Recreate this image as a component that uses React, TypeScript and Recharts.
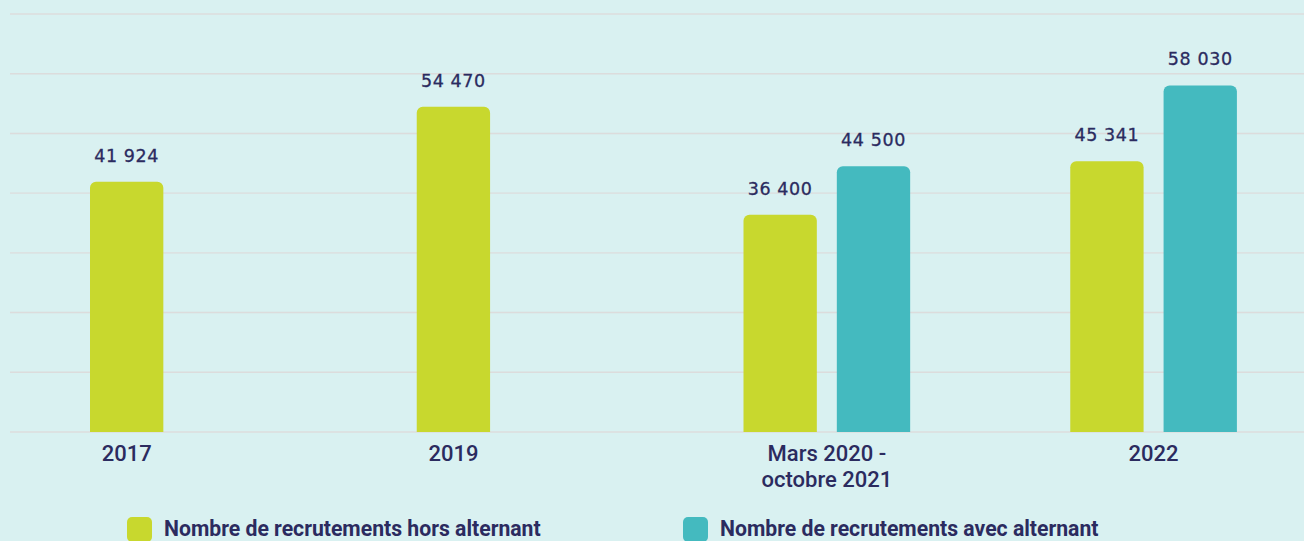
import React from 'react';
import { BarChart, Bar, XAxis, YAxis, CartesianGrid, LabelList } from 'recharts';

const categories = ['2017', '2019', 'Mars 2020 -\noctobre 2021', '2022'];
const horsAlternant = [41924, 54470, 36400, 45341];
const avecAlternant: (number | null)[] = [null, null, 44500, 58030];
const yTicks = [0, 10000, 20000, 30000, 40000, 50000, 60000, 70000];
const seriesNames = ['Nombre de recrutements hors alternant', 'Nombre de recrutements avec alternant'];

const data = categories.map((c, i) => ({ category: c, hors: horsAlternant[i], avec: avecAlternant[i] }));

const GREEN = '#c8d82e';
const TEAL = '#44babf';
const NAVY = '#2b2b5f';
const BG = '#d9f1f1';
const GRID = '#dcdcdc';
const BAR_SIZE = 73.33;
const BAR_GAP = 20;

const fmt = (v: number) => String(v).replace(/\B(?=(\d{3})+(?!\d))/g, ' ');

const ValueLabel = (props: any) => {
  const { x, y, width, value } = props;
  if (value === null || value === undefined) return null;
  return (
    <text
      x={Number(x) + Number(width) / 2}
      y={Number(y) - 20}
      textAnchor="middle"
      fill={NAVY}
      stroke={NAVY}
      strokeWidth={0.3}
      fontFamily="'DejaVu Sans', sans-serif"
      fontSize={17.5}
      letterSpacing={0.6}
    >
      {fmt(Number(value))}
    </text>
  );
};

const CategoryTick = (props: any) => {
  const { x, y, payload, index } = props;
  const lines = String(payload.value).split('\n');
  const single = avecAlternant[index] === null || avecAlternant[index] === undefined;
  const cx = Number(x) - (single ? (BAR_SIZE + BAR_GAP) / 2 : 0);
  return (
    <text
      x={cx}
      y={Number(y) + 29}
      textAnchor="middle"
      fill={NAVY}
      fontFamily="Roboto, sans-serif"
      fontWeight={500}
      fontSize={22}
    >
      {lines.map((l, i) => (
        <tspan key={i} x={cx} dy={i === 0 ? 0 : 25.5}>
          {l}
        </tspan>
      ))}
    </text>
  );
};

const legendItems = [
  { name: seriesNames[0], color: GREEN, left: 127 },
  { name: seriesNames[1], color: TEAL, left: 683 },
];

export default function App() {
  return (
    <div style={{ position: 'absolute', left: 0, top: 0, width: 1304, height: 541, background: BG, overflow: 'hidden' }}>
      <BarChart
        width={1317}
        height={541}
        data={data}
        margin={{ top: 14, right: 0, left: 10, bottom: 79 }}
        barGap={BAR_GAP}
      >
        <CartesianGrid vertical={false} stroke={GRID} strokeWidth={1.4} />
        <XAxis dataKey="category" height={30} axisLine={false} tickLine={false} tickSize={0} tickMargin={0} interval={0} tick={<CategoryTick />} />
        <YAxis hide domain={[0, 70000]} ticks={yTicks} />
        <Bar dataKey="hors" name={seriesNames[0]} fill={GREEN} barSize={BAR_SIZE} radius={[6, 6, 0, 0]} isAnimationActive={false}>
          <LabelList dataKey="hors" content={<ValueLabel />} />
        </Bar>
        <Bar dataKey="avec" name={seriesNames[1]} fill={TEAL} barSize={BAR_SIZE} radius={[6, 6, 0, 0]} isAnimationActive={false}>
          <LabelList dataKey="avec" content={<ValueLabel />} />
        </Bar>
      </BarChart>
      {legendItems.map((it) => (
        <div key={it.name} style={{ position: 'absolute', left: it.left, top: 517, display: 'flex', alignItems: 'flex-start' }}>
          <div style={{ width: 25, height: 25, borderRadius: 5, background: it.color }} />
          <span
            style={{
              marginLeft: 12,
              fontFamily: 'Roboto, sans-serif',
              fontWeight: 700,
              fontSize: 21.2,
              color: NAVY,
              lineHeight: '24px',
              whiteSpace: 'nowrap',
            }}
          >
            {it.name}
          </span>
        </div>
      ))}
    </div>
  );
}
